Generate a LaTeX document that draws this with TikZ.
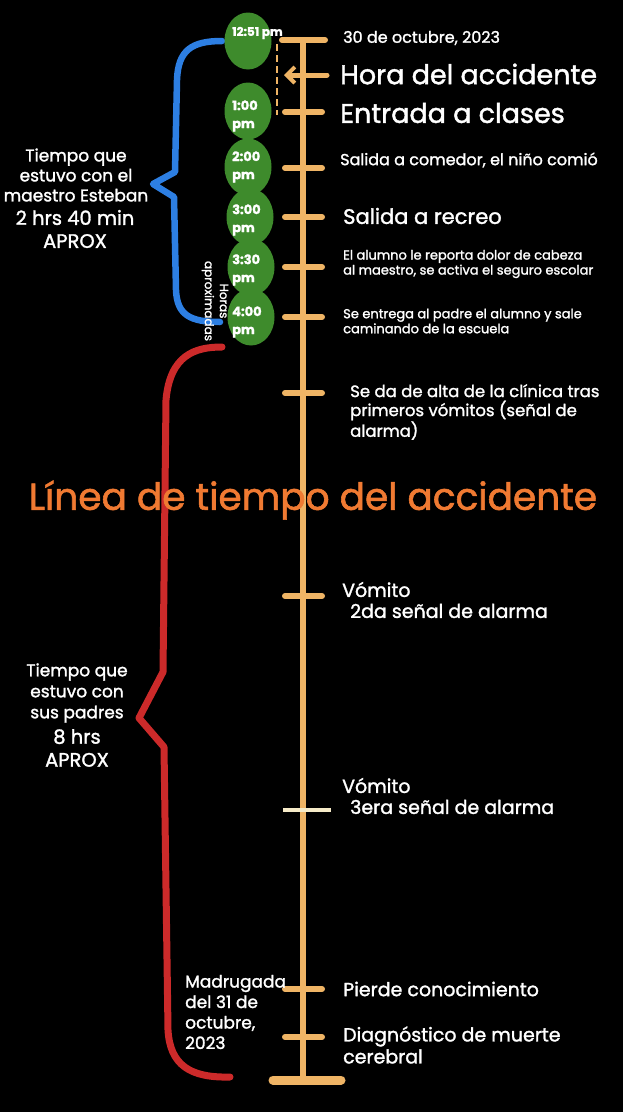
\documentclass[tikz,border=0pt]{standalone}
\usepackage{fontspec}
\setmainfont{Poppins}[FakeBold=1.5]
\usetikzlibrary{arrows.meta,shapes.geometric}
\definecolor{lineor}{HTML}{EFB465}
\definecolor{badgegreen}{HTML}{3E8B2C}
\definecolor{bracblue}{HTML}{2D7FE3}
\definecolor{bracred}{HTML}{CC2A2A}
\definecolor{titleor}{HTML}{F07A32}
\definecolor{creamtick}{HTML}{F6EBC8}
\newcommand\fsz[2]{\fontsize{#1}{#2}\selectfont}
\begin{document}
\begin{tikzpicture}[x=1pt,y=-1pt,
  txt/.style={text=white, inner sep=0pt, anchor=west, align=left},
  ctxt/.style={text=white, inner sep=0pt, align=center},
  btxt/.style={text=white, inner sep=0pt, anchor=west, align=left, font=\fsz{13}{18}\bfseries},
  badge/.style={ellipse, fill=badgegreen, minimum width=47pt, minimum height=57pt, inner sep=0pt},
  tick/.style={draw=lineor, line width=6pt, line cap=round},
  brace/.style={line width=6.5pt, line cap=round, line join=round}]
\fill[black] (0,0) rectangle (623,1112);
\useasboundingbox (0,0) rectangle (623,1112);

% braces
\draw[brace, draw=bracblue] (222,41) .. controls (192,41) and (178,50) .. (177,80)
  -- (175,172) -- (153,184) -- (174,197) -- (176,290)
  .. controls (177,315) and (190,322) .. (220,322);
\draw[brace, draw=bracred, line width=7pt] (222,347) .. controls (195,347) and (170,355) .. (166,400)
  -- (163,672) -- (139,718) -- (164,747) -- (168,1030)
  .. controls (170,1065) and (190,1078) .. (230,1077);

% badges
\node[badge] (g1) at (248,41) {};
\node[badge] (g2) at (248,111) {};
\node[badge] (g3) at (248,167) {};
\node[badge] (g4) at (250,217) {};
\node[badge] (g5) at (251,267) {};
\node[badge] (g6) at (251,317) {};

% main line
\coordinate (top) at (303,40);
\coordinate (bot) at (303,1080);
\draw[draw=lineor, line width=5.5pt] (top) -- (bot);
\draw[tick] (282,40) -- (325,40);
\draw[tick, line width=9pt] (273,1080) -- (341,1080);
\foreach \y in {112,168,217,267,317,393,596,989,1037}
  \draw[tick] (285,\y) -- (322,\y);
\draw[draw=creamtick, line width=4pt] (283,810) -- (331,810);
% arrow and dashed
\coordinate (arrs) at (327,75);
\coordinate (arre) at (284,75);
\draw[draw=lineor, line width=5pt, line cap=round, -{Straight Barb[length=8pt,width=16pt,line width=4pt]}] (arrs) -- (arre);
\coordinate (dsa) at (277,44);
\coordinate (dsb) at (277,115);
\draw[draw=lineor, line width=2.5pt, dash pattern=on 7pt off 4pt] (dsa) -- (dsb);

% badge texts
\node[btxt, font=\fsz{12}{14}\bfseries] (b1) at (232,33) {12:51 pm};
\node[btxt] (b2) at (232,116) {1:00\\pm};
\node[btxt] (b3) at (232,167) {2:00\\pm};
\node[btxt] (b4) at (232,220) {3:00\\pm};
\node[btxt] (b5) at (232,270) {3:30\\pm};
\node[btxt] (b6) at (232,322) {4:00\\pm};
\node[ctxt, rotate=-90, font=\fsz{12}{15}] (horas) at (215,301) {Horas\\aproximadas};

% right texts
\node[txt, font=\fsz{16}{18}] (e0) at (343,38) {30 de octubre, 2023};
\node[txt, font=\fsz{27}{30}] (e1) at (340,74) {Hora del accidente};
\node[txt, font=\fsz{27}{30}] (e2) at (340,113) {Entrada a clases};
\node[txt, font=\fsz{16}{18}] (e3) at (340,160) {Salida a comedor, el niño comió};
\node[txt, font=\fsz{21}{24}] (e4) at (343,216) {Salida a recreo};
\node[txt, font=\fsz{13}{15}] (e5) at (343,264) {El alumno le reporta dolor de cabeza\\al maestro, se activa el seguro escolar};
\node[txt, font=\fsz{13}{15}] (e6) at (343,321) {Se entrega al padre el alumno y sale\\caminando de la escuela};
\node[txt, font=\fsz{16.5}{19}] (e7) at (350,412) {Se da de alta de la clínica tras\\primeros vómitos (señal de\\alarma)};
\node[txt, font=\fsz{19}{21}] (e8) at (342,600) {Vómito\\\hspace*{8pt}2da señal de alarma};
\node[txt, font=\fsz{19}{21}] (e9) at (342,796) {Vómito\\\hspace*{8pt}3era señal de alarma};
\node[txt, font=\fsz{19}{22}] (e10) at (343,989) {Pierde conocimiento};
\node[txt, font=\fsz{19}{22}] (e11) at (343,1045) {Diagnóstico de muerte\\cerebral};
\node[txt, font=\fsz{17}{20.5}] (mad) at (185,1012) {Madrugada\\del 31 de\\octubre,\\2023};

% left texts
\node[ctxt, font=\fsz{17}{20}] (bl1) at (76,175) {Tiempo que\\estuvo con el\\maestro Esteban};
\node[ctxt, font=\fsz{19.5}{23}] (bl2) at (75,229) {2 hrs 40 min\\APROX};
\node[ctxt, font=\fsz{17}{21}] (rl1) at (77,693) {Tiempo que\\estuvo con\\sus padres};
\node[ctxt, font=\fsz{19.5}{23}] (rl2) at (77,748) {8 hrs\\APROX};

% title
\node[inner sep=0pt, text=titleor, font=\fsz{37.5}{42}] (title) at (313,500) {Línea de tiempo del accidente};
\end{tikzpicture}
\end{document}
